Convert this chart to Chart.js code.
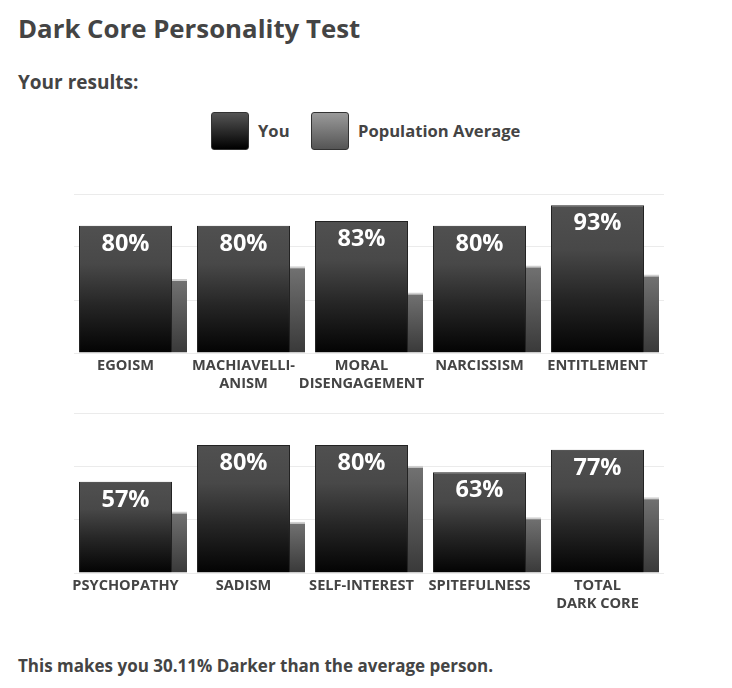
<!DOCTYPE html>
<html>
<head>
<meta charset="utf-8">
<script src="https://cdn.jsdelivr.net/npm/chart.js@4.4.1/dist/chart.umd.min.js"></script>
<style>
  body { margin: 0; background: #fff; font-family: 'Open Sans', sans-serif; color: #444; }
  .page { position: relative; width: 732px; height: 688px; overflow: hidden; }
  .txt { position: absolute; line-height: 1; white-space: nowrap; }
  #title { left: 18px; top: 16px; font-size: 25.8px; font-weight: 700; }
  #sub { left: 18px; top: 73px; font-size: 19px; font-weight: 700; }
  #foot { left: 18px; top: 657px; font-size: 17px; font-weight: 700; }
  .legend-box { position: absolute; width: 38px; height: 38px; border: 1px solid #333; border-radius: 3px; box-sizing: border-box; }
  .legend-label { position: absolute; top: 123px; font-size: 16.6px; font-weight: 700; line-height: 1; }
  canvas { position: absolute; left: 0; }
</style>
</head>
<body>
<div class="page">
  <div class="txt" id="title">Dark Core Personality Test</div>
  <div class="txt" id="sub">Your results:</div>

  <div class="legend-box" style="left:211px; top:112px; background:linear-gradient(#555, #000);"></div>
  <div class="legend-label" style="left:258px;">You</div>
  <div class="legend-box" style="left:311px; top:112px; background:linear-gradient(#9a9a9a, #555);"></div>
  <div class="legend-label" style="left:358px;">Population Average</div>

  <canvas id="topChart" width="732" height="225" style="top:180px;"></canvas>
  <canvas id="bottomChart" width="732" height="225" style="top:400px;"></canvas>

  <div class="txt" id="foot">This makes you 30.11% Darker than the average person.</div>
</div>

<script>
// datos
const topLabels = ['EGOISM', ['MACHIAVELLI-', 'ANISM'], ['MORAL', 'DISENGAGEMENT'], 'NARCISSISM', 'ENTITLEMENT'];
const topYou = [80, 80, 83, 80, 93];
const topAvg = [46.5, 54.6, 38, 55, 49.3];

const bottomLabels = ['PSYCHOPATHY', 'SADISM', 'SELF-INTEREST', 'SPITEFULNESS', ['TOTAL', 'DARK CORE']];
const bottomYou = [57, 80, 80, 63, 77];
const bottomAvg = [38.5, 32, 67.1, 34.8, 47.3];

const FONT = "'Open Sans', sans-serif";

// gradiente por barra, desde su tope hasta la base
function barGradient(stops, fallback) {
    return (ctx) => {
        const chart = ctx.chart;
        const y = chart.scales.y;
        if (!chart.chartArea || !y || ctx.raw == null) return fallback;
        const top = y.getPixelForValue(ctx.raw);
        const bottom = y.getPixelForValue(0);
        if (!isFinite(top) || !isFinite(bottom) || top === bottom) return fallback;
        const g = chart.ctx.createLinearGradient(0, top, 0, bottom);
        stops.forEach(s => g.addColorStop(s[0], s[1]));
        return g;
    };
}

// etiquetas de porcentaje dentro de la barra "You"
const valueLabels = {
    id: 'valueLabels',
    afterDatasetsDraw(chart) {
        const meta = chart.getDatasetMeta(0);
        const data = chart.data.datasets[0].data;
        const c = chart.ctx;
        c.save();
        c.fillStyle = '#fff';
        c.font = `bold 23.5px ${FONT}`;
        c.textAlign = 'center';
        c.textBaseline = 'alphabetic';
        meta.data.forEach((bar, i) => {
            c.fillText(data[i] + '%', bar.x, bar.y + 25);
        });
        c.restore();
    }
};

function makeChart(id, labels, you, avg, padTop) {
    return new Chart(document.getElementById(id), {
        type: 'bar',
        data: {
            labels: labels,
            datasets: [{
                label: 'You',
                data: you,
                backgroundColor: barGradient([[0, '#505050'], [0.3, '#484848'], [0.62, '#262626'], [1, '#030303']], '#333'),
                borderColor: '#222',
                borderWidth: 1,
                borderSkipped: 'bottom',
                categoryPercentage: 0.2542,
                barPercentage: 6.2
            }, {
                label: 'Population Average',
                data: avg,
                backgroundColor: barGradient([[0, '#727272'], [1, '#393939']], '#555'),
                borderColor: '#cfcfcf',
                borderWidth: { top: 2, left: 0, right: 0, bottom: 0 },
                borderSkipped: false,
                categoryPercentage: 1.5763,
                barPercentage: 0.1613
            }]
        },
        options: {
            responsive: false,
            animation: false,
            layout: { padding: { left: 74, right: 68, top: padTop, bottom: 0 } },
            plugins: {
                legend: { display: false },
                tooltip: { enabled: false }
            },
            scales: {
                x: {
                    grid: { display: false, drawTicks: false },
                    border: { display: false },
                    ticks: {
                        autoSkip: false,
                        maxRotation: 0,
                        padding: 4,
                        labelOffset: -7.5,
                        color: '#444',
                        font: { family: FONT, size: 14.6, weight: 'bold', lineHeight: 1.22 }
                    },
                    afterFit: (s) => { s.height = 52; }
                },
                y: {
                    min: 0,
                    max: 100,
                    ticks: { display: false, count: 4 },
                    grid: { color: '#ebebeb', lineWidth: 1, drawTicks: false },
                    border: { display: false },
                    afterFit: (s) => { s.width = 0; }
                }
            }
        },
        plugins: [valueLabels]
    });
}

makeChart('topChart', topLabels, topYou, topAvg, 14);
makeChart('bottomChart', bottomLabels, bottomYou, bottomAvg, 13);
</script>
</body>
</html>
